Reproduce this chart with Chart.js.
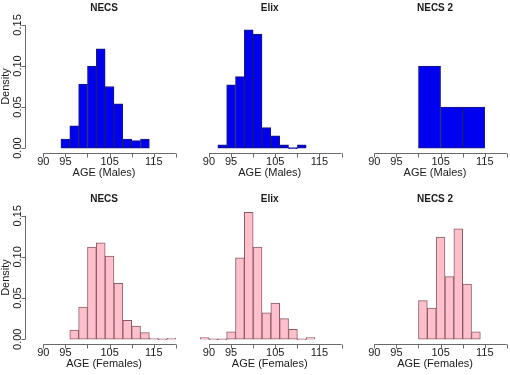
<!DOCTYPE html>
<html lang="en">
<head>
<meta charset="UTF-8">
<title>AGE density histograms</title>
<script src="https://cdn.jsdelivr.net/npm/chart.js"></script>
<style>
  html, body { margin: 0; padding: 0; background: #fff; }
  #wrap { position: relative; width: 510px; height: 375px; overflow: hidden; }
  #wrap canvas { position: absolute; left: 0; top: 0; }
</style>
</head>
<body>
<div id="wrap">
  <canvas id="p0" width="530" height="375"></canvas>
  <canvas id="p1" width="530" height="375"></canvas>
  <canvas id="p2" width="530" height="375"></canvas>
  <canvas id="p3" width="530" height="375"></canvas>
  <canvas id="p4" width="530" height="375"></canvas>
  <canvas id="p5" width="530" height="375"></canvas>
</div>

<script>
// panel titles and axis texts
const titles = ['NECS', 'Elix', 'NECS 2'];
const xLabels = ['AGE (Males)', 'AGE (Females)'];
const xTicks = [90, 95, 100, 105, 110, 115, 120];
const xTickLabels = ['90', '95', '', '105', '', '115', ''];
const yTicks = [0, 0.05, 0.10, 0.15];
const yTickLabels = ['0.00', '0.05', '0.10', '0.15'];

// bin edges and densities
const necsMaleEdges = [94, 96, 98, 100, 102, 104, 106, 108, 110, 112, 114];
const necsMaleDens  = [0.011, 0.027, 0.078, 0.100, 0.121, 0.075, 0.054, 0.011, 0.009, 0.011];

const elixMaleEdges = [92, 94, 96, 98, 100, 102, 104, 106, 108, 110, 112];
const elixMaleDens  = [0.004, 0.077, 0.087, 0.144, 0.139, 0.025, 0.015, 0.004, 0, 0.004];

const necs2MaleEdges = [100, 105, 110, 115];
const necs2MaleDens  = [0.100, 0.050, 0.050];

const necsFemaleEdges = [96, 98, 100, 102, 104, 106, 108, 110, 112, 114, 116, 118, 120];
const necsFemaleDens  = [0.011, 0.039, 0.112, 0.117, 0.101, 0.068, 0.023, 0.016, 0.008, 0.001, 0, 0.001];

const elixFemaleEdges = [88, 90, 92, 94, 96, 98, 100, 102, 104, 106, 108, 110, 112, 114];
const elixFemaleDens  = [0.002, 0, 0, 0.009, 0.099, 0.154, 0.112, 0.032, 0.044, 0.025, 0.012, 0, 0.002];

const necs2FemaleEdges = [100, 102, 104, 106, 108, 110, 112, 114];
const necs2FemaleDens  = [0.047, 0.038, 0.124, 0.076, 0.134, 0.067, 0.009];

// layout (page pixels)
const colLeft = [25.6, 191.3, 356.6];
const plotW = 156.9;
const rowTop = [20, 210.8];
const rowBottom = [153, 344.2];
const X_MIN = 86, X_MAX = 121.5;
const Y_MIN = -0.006, Y_MAX = 0.156;

const fillCols = ['#0000f0', '#ffc0cb'];
const borderCols = ['#1c1c70', '#8a5c66'];
const FONT = '"Liberation Sans", Arial, sans-serif';

// R style axes drawn from the chart's own scales
const rAxes = {
  id: 'rAxes',
  afterDraw(chart, args, o) {
    const { ctx, chartArea: a, scales: { x, y } } = chart;
    ctx.save();
    ctx.strokeStyle = '#6a6a6a';
    ctx.lineWidth = 1;
    ctx.fillStyle = '#1a1a1a';

    // title
    ctx.font = 'bold 10px ' + FONT;
    ctx.textAlign = 'center';
    ctx.textBaseline = 'middle';
    ctx.fillText(o.title, (a.left + a.right) / 2, a.top - 11.5);

    // x axis
    const yl = Math.round(a.bottom) + 0.5;
    ctx.beginPath();
    ctx.moveTo(x.getPixelForValue(xTicks[0]), yl);
    ctx.lineTo(x.getPixelForValue(xTicks[xTicks.length - 1]), yl);
    xTicks.forEach(t => {
      const px = Math.round(x.getPixelForValue(t)) + 0.5;
      ctx.moveTo(px, yl);
      ctx.lineTo(px, yl + 4);
    });
    ctx.stroke();
    ctx.font = '11px ' + FONT;
    xTicks.forEach((t, i) => {
      if (xTickLabels[i]) ctx.fillText(xTickLabels[i], x.getPixelForValue(t), a.bottom + 8.5);
    });
    ctx.fillText(o.xlab, (a.left + a.right) / 2, a.bottom + 20);

    // y axis only on the first column
    if (o.showY) {
      const xl = Math.round(a.left) - 0.5;
      ctx.beginPath();
      ctx.moveTo(xl, y.getPixelForValue(yTicks[0]));
      ctx.lineTo(xl, y.getPixelForValue(yTicks[yTicks.length - 1]));
      yTicks.forEach(t => {
        const py = Math.round(y.getPixelForValue(t)) + 0.5;
        ctx.moveTo(xl, py);
        ctx.lineTo(xl - 4, py);
      });
      ctx.stroke();
      yTicks.forEach((t, i) => {
        ctx.save();
        ctx.translate(a.left - 8, y.getPixelForValue(t));
        ctx.rotate(-Math.PI / 2);
        ctx.fillText(yTickLabels[i], 0, 0);
        ctx.restore();
      });
      ctx.save();
      ctx.translate(a.left - 19.5, (a.top + a.bottom) / 2);
      ctx.rotate(-Math.PI / 2);
      ctx.fillText('Density', 0, 0);
      ctx.restore();
    }
    ctx.restore();
  }
};

function toBars(edges, dens) {
  return dens.map((d, i) => ({ x: (edges[i] + edges[i + 1]) / 2, y: d }));
}

const panels = [
  [necsMaleEdges, necsMaleDens],
  [elixMaleEdges, elixMaleDens],
  [necs2MaleEdges, necs2MaleDens],
  [necsFemaleEdges, necsFemaleDens],
  [elixFemaleEdges, elixFemaleDens],
  [necs2FemaleEdges, necs2FemaleDens]
];

panels.forEach(([edges, dens], k) => {
  const r = Math.floor(k / 3), c = k % 3;
  const cv = document.getElementById('p' + k);
  new Chart(cv.getContext('2d'), {
    type: 'bar',
    data: {
      datasets: [{
        data: toBars(edges, dens),
        backgroundColor: fillCols[r],
        borderColor: borderCols[r],
        borderWidth: 1,
        borderSkipped: false,
        barPercentage: 1,
        categoryPercentage: 1,
        minBarLength: 1
      }]
    },
    options: {
      responsive: false,
      animation: false,
      events: [],
      layout: {
        padding: {
          left: colLeft[c],
          right: cv.width - colLeft[c] - plotW,
          top: rowTop[r],
          bottom: cv.height - rowBottom[r]
        }
      },
      scales: {
        x: { type: 'linear', min: X_MIN, max: X_MAX, offset: false, display: false },
        y: { min: Y_MIN, max: Y_MAX, display: false }
      },
      plugins: {
        legend: { display: false },
        tooltip: { enabled: false },
        rAxes: { title: titles[c], xlab: xLabels[r], showY: c === 0 }
      }
    },
    plugins: [rAxes]
  });
});
</script>
</body>
</html>
